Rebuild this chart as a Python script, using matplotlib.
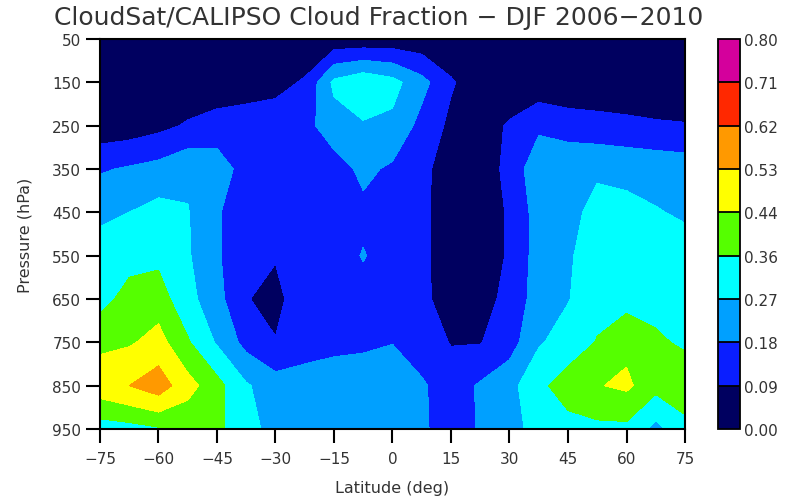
import numpy as np
import matplotlib
matplotlib.use("Agg")
from matplotlib import pyplot as plt

# zonal-mean cloud fraction, DJF 2006-2010, rows = pressure level, cols = latitude
lats = [-75, -67.5, -60, -52.5, -45, -37.5, -30, -22.5, -15, -7.5, 0,
        7.5, 15, 22.5, 30, 37.5, 45, 52.5, 60, 67.5, 75]
pres = [50, 150, 250, 350, 450, 550, 650, 750, 850, 950]

cf_p50 = [0.02, 0.02, 0.02, 0.02, 0.02, 0.02, 0.02, 0.02, 0.025, 0.025, 0.03,
          0.025, 0.02, 0.02, 0.02, 0.02, 0.02, 0.02, 0.02, 0.02, 0.02]
cf_p150 = [0.02, 0.02, 0.025, 0.025, 0.035, 0.04, 0.06, 0.10, 0.29, 0.34, 0.30,
           0.21, 0.10, 0.04, 0.03, 0.03, 0.03, 0.03, 0.03, 0.03, 0.03]
cf_p250 = [0.03, 0.04, 0.065, 0.10, 0.125, 0.14, 0.14, 0.15, 0.23, 0.26, 0.25,
           0.15, 0.07, 0.05, 0.10, 0.16, 0.13, 0.12, 0.11, 0.10, 0.095]
cf_p350 = [0.17, 0.19, 0.21, 0.25, 0.23, 0.14, 0.13, 0.13, 0.14, 0.20, 0.165,
           0.11, 0.05, 0.05, 0.11, 0.25, 0.26, 0.26, 0.25, 0.24, 0.23]
cf_p450 = [0.25, 0.27, 0.30, 0.275, 0.19, 0.12, 0.11, 0.11, 0.12, 0.16, 0.14,
           0.11, 0.04, 0.04, 0.10, 0.22, 0.25, 0.29, 0.29, 0.275, 0.26]
cf_p550 = [0.31, 0.33, 0.34, 0.28, 0.19, 0.12, 0.097, 0.12, 0.14, 0.185, 0.14,
           0.11, 0.04, 0.04, 0.10, 0.22, 0.26, 0.31, 0.32, 0.32, 0.30]
cf_p650 = [0.33, 0.39, 0.40, 0.30, 0.21, 0.095, 0.06, 0.154, 0.14, 0.15, 0.14,
           0.11, 0.05, 0.05, 0.12, 0.22, 0.265, 0.33, 0.33, 0.34, 0.33]
cf_p750 = [0.42, 0.43, 0.47, 0.37, 0.26, 0.15, 0.095, 0.15, 0.165, 0.17, 0.178,
           0.14, 0.085, 0.086, 0.14, 0.26, 0.31, 0.365, 0.42, 0.37, 0.35]
cf_p850 = [0.49, 0.53, 0.58, 0.47, 0.39, 0.28, 0.22, 0.21, 0.21, 0.21, 0.22,
           0.19, 0.14, 0.19, 0.24, 0.34, 0.40, 0.435, 0.455, 0.39, 0.40]
cf_p950 = [0.32, 0.33, 0.35, 0.38, 0.38, 0.30, 0.24, 0.22, 0.21, 0.20, 0.20,
           0.19, 0.15, 0.185, 0.25, 0.29, 0.33, 0.34, 0.34, 0.24, 0.34]

levels = [0.00, 0.09, 0.18, 0.27, 0.36, 0.44, 0.53, 0.62, 0.71, 0.80]
level_labels = ['0.00', '0.09', '0.18', '0.27', '0.36', '0.44', '0.53', '0.62', '0.71', '0.80']
colors = ['#000060', '#0a1eff', '#00a0ff', '#00ffff', '#55ff00',
          '#ffff00', '#ff9900', '#ff2800', '#d4009c']

lat_ticks = [-75, -60, -45, -30, -15, 0, 15, 30, 45, 60, 75]
p_ticks = [50, 150, 250, 350, 450, 550, 650, 750, 850, 950]

cloud = np.array([cf_p50, cf_p150, cf_p250, cf_p350, cf_p450,
                  cf_p550, cf_p650, cf_p750, cf_p850, cf_p950])

plt.rcParams['font.family'] = ['DejaVu Sans']
txt = '#333333'

fig = plt.figure(figsize=(7.98, 5.02), dpi=100)
ax = fig.add_axes([0.1253, 0.1434, 0.7331, 0.7769])
cf = ax.contourf(lats, pres, cloud, levels=levels, colors=colors)

ax.set_xlim(-75, 75)
ax.set_ylim(950, 50)
ax.set_xticks(lat_ticks)
ax.set_yticks(p_ticks)
ax.tick_params(direction='out', length=10, width=1.5, labelsize=11,
               colors='black', labelcolor=txt, top=False, right=False)
ax.tick_params(axis='x', pad=6)
for s in ax.spines.values():
    s.set_linewidth(1.5)
ax.set_xlabel('Latitude (deg)', fontsize=11.5, color=txt, labelpad=10)
ax.set_ylabel('Pressure (hPa)', fontsize=11.5, color=txt, labelpad=14)

fig.text(0.474, 0.965, 'CloudSat/CALIPSO Cloud Fraction \u2212 DJF 2006\u22122010',
         ha='center', va='center', fontsize=18, color=txt)

cax = fig.add_axes([0.8997, 0.1434, 0.0276, 0.7769])
cb = fig.colorbar(cf, cax=cax, ticks=levels, drawedges=True)
cb.ax.set_yticklabels(level_labels)
cb.ax.tick_params(length=0, labelsize=11, labelcolor=txt, pad=3)
cb.outline.set_linewidth(1.3)
cb.dividers.set_linewidth(1.3)

plt.savefig('out.png', dpi=100)
